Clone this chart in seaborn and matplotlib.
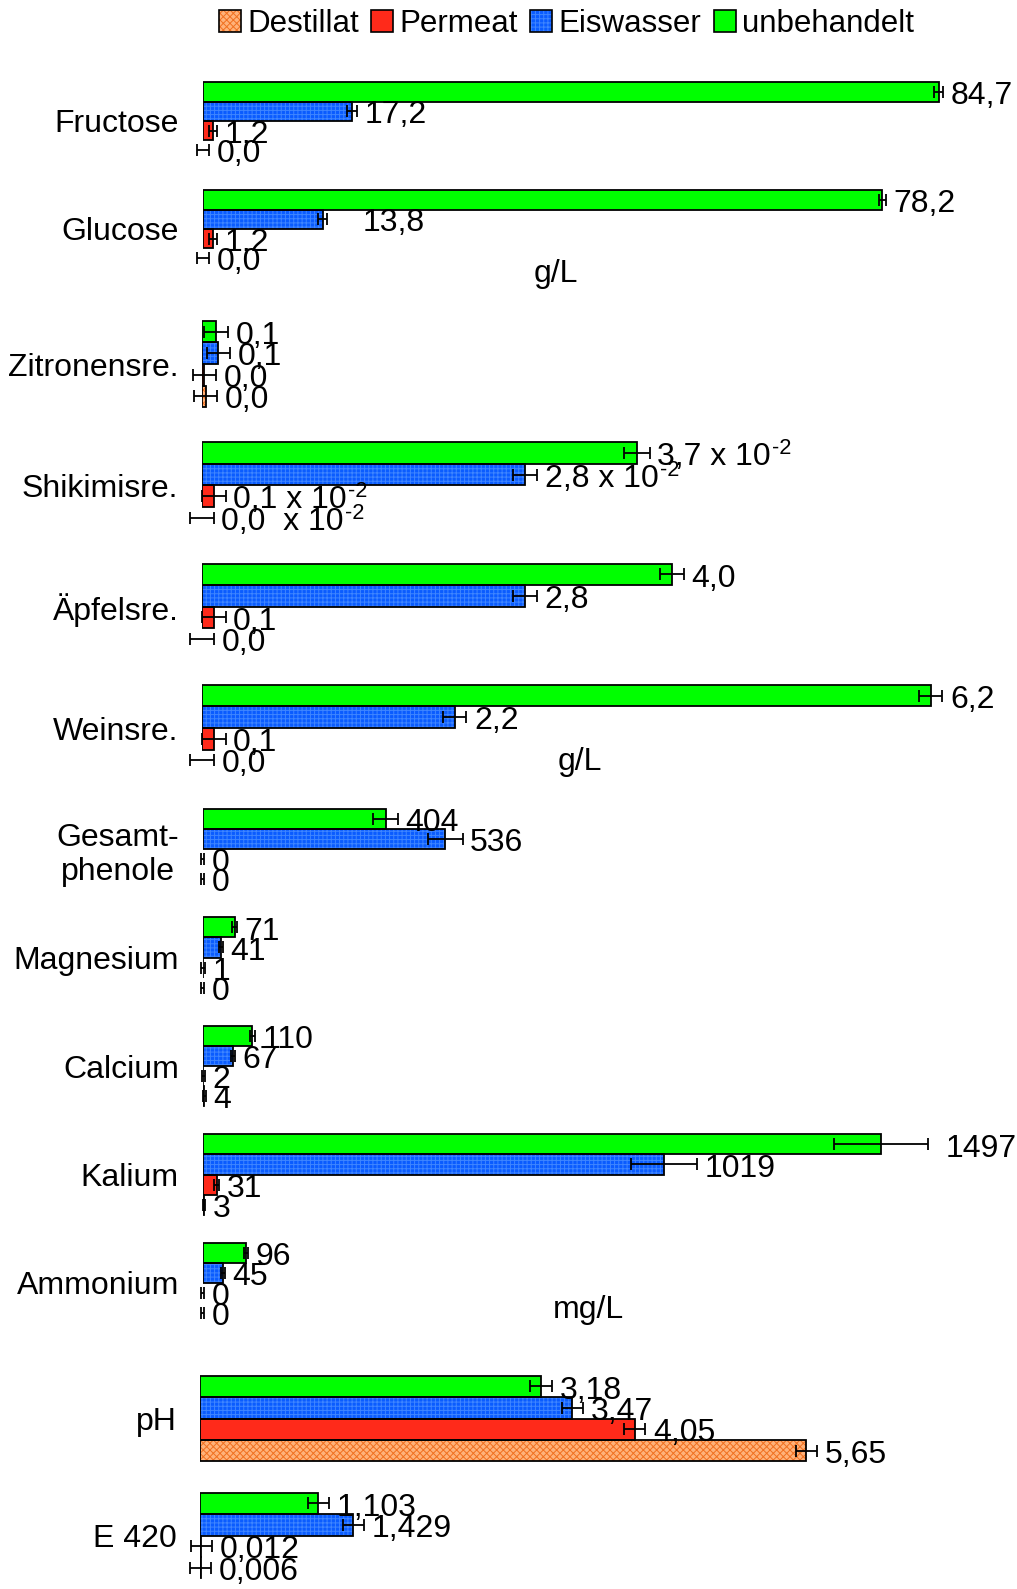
import numpy as np
import pandas as pd
import matplotlib
matplotlib.use("Agg")
import matplotlib.pyplot as plt
from matplotlib.patches import Patch, Rectangle
from matplotlib.legend_handler import HandlerTuple
import seaborn as sns

# --- Daten ---
proben = ["unbehandelt", "Eiswasser", "Permeat", "Destillat"]

# Zucker (g/L)
zucker = ["Fructose", "Glucose"]
zucker_unbeh = [84.7, 78.2]
zucker_eis = [17.2, 13.8]
zucker_perm = [1.2, 1.2]
zucker_dest = [0.0, 0.0]
zucker_err_unbeh = [0.5, 0.4]
zucker_err_eis = [0.6, 0.5]
zucker_err_perm = [0.5, 0.5]
zucker_err_dest = [0.7, 0.7]
zucker_lab_unbeh = ["84,7", "78,2"]
zucker_lab_eis = ["17,2", "13,8"]
zucker_lab_perm = ["1,2", "1,2"]
zucker_lab_dest = ["0,0", "0,0"]

# Saeuren (g/L, Shikimisre. in 10^-2 g/L)
saeuren = ["Zitronensre.", "Shikimisre.", "Äpfelsre.", "Weinsre."]
saeuren_unbeh = [0.12, 3.7, 4.0, 6.2]
saeuren_eis = [0.14, 2.75, 2.75, 2.15]
saeuren_perm = [0.02, 0.1, 0.1, 0.1]
saeuren_dest = [0.03, 0.0, 0.0, 0.0]
saeuren_err_unbeh = [0.1, 0.11, 0.1, 0.1]
saeuren_err_eis = [0.1, 0.1, 0.1, 0.1]
saeuren_err_perm = [0.1, 0.1, 0.1, 0.1]
saeuren_err_dest = [0.1, 0.1, 0.1, 0.1]
saeuren_lab_unbeh = ["0,1", "3,7 x 10^-2", "4,0", "6,2"]
saeuren_lab_eis = ["0,1", "2,8 x 10^-2", "2,8", "2,2"]
saeuren_lab_perm = ["0,0", "0,1 x 10^-2", "0,1", "0,1"]
saeuren_lab_dest = ["0,0", "0,0  x 10^-2", "0,0", "0,0"]

# Phenole und Mineralstoffe (mg/L)
ionen = ["Gesamt-\nphenole", "Magnesium", "Calcium", "Kalium", "Ammonium"]
ionen_unbeh = [404, 71, 110, 1497, 96]
ionen_eis = [536, 41, 67, 1019, 45]
ionen_perm = [0, 1, 2, 31, 0]
ionen_dest = [0, 0, 4, 3, 0]
ionen_err_unbeh = [27, 5, 6, 104, 5]
ionen_err_eis = [38, 4, 5, 73, 4]
ionen_err_perm = [4, 4, 4, 6, 4]
ionen_err_dest = [3, 3, 3, 3, 3]
ionen_lab_unbeh = ["404", "71", "110", "1497", "96"]
ionen_lab_eis = ["536", "41", "67", "1019", "45"]
ionen_lab_perm = ["0", "1", "2", "31", "0"]
ionen_lab_dest = ["0", "0", "4", "3", "0"]

# pH und E 420
ph = ["pH", "E 420"]
ph_unbeh = [3.18, 1.103]
ph_eis = [3.47, 1.429]
ph_perm = [4.05, 0.012]
ph_dest = [5.65, 0.006]
ph_err_unbeh = [0.1, 0.1]
ph_err_eis = [0.1, 0.1]
ph_err_perm = [0.1, 0.1]
ph_err_dest = [0.1, 0.1]
ph_lab_unbeh = ["3,18", "1,103"]
ph_lab_eis = ["3,47", "1,429"]
ph_lab_perm = ["4,05", "0,012"]
ph_lab_dest = ["5,65", "0,006"]

# Zusaetzlicher Abstand einzelner Beschriftungen (Pixel)
label_shift = {"13,8": 28, "1497": 10}

# --- Stil ---
sns.set_style("white")
plt.rcParams["font.family"] = ["Liberation Sans", "DejaVu Sans"]
plt.rcParams["text.color"] = "black"
plt.rcParams["hatch.linewidth"] = 0.7

farben = {"unbehandelt": "#00FF00", "Eiswasser": "#0A5CFF",
          "Permeat": "#FF2A1A", "Destillat": "#FFB27A"}
hatch_farben = {"unbehandelt": "#00FF00", "Eiswasser": "#3F86FF",
                "Permeat": "#FF2A1A", "Destillat": "#F07020"}
hatches = {"unbehandelt": "", "Eiswasser": "++++", "Permeat": "", "Destillat": "xxxxx"}

FS = 23
W, H = 1017, 1589
fig = plt.figure(figsize=(W / 100, H / 100), dpi=100)


def beschriften(ax, text, x, y, dx):
    # "a x 10^-2" -> Basistext plus hochgestellter Exponent
    basis, _, hoch = text.partition("^")
    t = ax.annotate(basis, xy=(x, y), xytext=(dx, -3), textcoords="offset points",
                    ha="left", va="center", fontsize=FS)
    if hoch:
        ax.annotate(hoch, xy=(1, 0.78), xycoords=t, xytext=(1, 0),
                    textcoords="offset points", ha="left", va="center",
                    fontsize=FS * 0.68)


def panel(cats, werte, fehler, labels, geo):
    left, first_c, last_c, scale, width = geo
    n = len(cats)
    pitch = (last_c - first_c) / (n - 1)
    top = first_c - pitch / 2
    ax_w = 800
    ax = fig.add_axes([left / W, 1 - (top + pitch * n) / H, ax_w / W, pitch * n / H])

    rows = []
    for probe, w in zip(proben, werte):
        for c, v in zip(cats, w):
            rows.append({"parameter": c, "probe": probe, "wert": v})
    df = pd.DataFrame(rows)
    sns.barplot(data=df, x="wert", y="parameter", hue="probe", hue_order=proben,
                order=cats, palette=farben, orient="h", errorbar=None, width=width,
                saturation=1, linewidth=0, legend=False, ax=ax)

    for i, probe in enumerate(proben):
        bars = ax.containers[i]
        ys = []
        for p in bars.patches:
            p.set_hatch(hatches[probe])
            p.set_edgecolor(hatch_farben[probe])
            p.set_linewidth(0)
            ys.append(p.get_y() + p.get_height() / 2)
            if p.get_width() > 0:
                ax.add_patch(Rectangle(p.get_xy(), p.get_width(), p.get_height(),
                                       fill=False, ec="black", lw=1.3, zorder=3))
        eb = ax.errorbar(werte[i], ys, xerr=fehler[i], fmt="none", ecolor="black",
                         elinewidth=1.3, capsize=4, capthick=1.3, zorder=4)
        for art in eb.get_children():
            art.set_clip_on(False)
        for v, e, y, t in zip(werte[i], fehler[i], ys, labels[i]):
            beschriften(ax, t, v + e, y, 5.5 + label_shift.get(t, 0) * 0.72)

    ax.set_xlim(0, ax_w / scale)
    ax.set_ylim(n - 0.5, -0.5)
    ax.set_xticks([])
    ax.set_xlabel("")
    ax.set_ylabel("")
    sns.despine(ax=ax, left=True, bottom=True)
    ax.tick_params(axis="y", length=0, pad=17, labelsize=FS, labelcolor="black")
    for lbl in ax.get_yticklabels():
        lbl.set_multialignment("center")
    ax.patch.set_alpha(0)
    return ax


panel(zucker,
      [zucker_unbeh, zucker_eis, zucker_perm, zucker_dest],
      [zucker_err_unbeh, zucker_err_eis, zucker_err_perm, zucker_err_dest],
      [zucker_lab_unbeh, zucker_lab_eis, zucker_lab_perm, zucker_lab_dest],
      (202.6, 121, 229, 8.69, 0.72))
panel(saeuren,
      [saeuren_unbeh, saeuren_eis, saeuren_perm, saeuren_dest],
      [saeuren_err_unbeh, saeuren_err_eis, saeuren_err_perm, saeuren_err_dest],
      [saeuren_lab_unbeh, saeuren_lab_eis, saeuren_lab_perm, saeuren_lab_dest],
      (202.0, 364, 728, 117.5, 0.71))
panel(ionen,
      [ionen_unbeh, ionen_eis, ionen_perm, ionen_dest],
      [ionen_err_unbeh, ionen_err_eis, ionen_err_perm, ionen_err_dest],
      [ionen_lab_unbeh, ionen_lab_eis, ionen_lab_perm, ionen_lab_dest],
      (202.5, 849, 1283, 0.453, 0.74))
panel(ph,
      [ph_unbeh, ph_eis, ph_perm, ph_dest],
      [ph_err_unbeh, ph_err_eis, ph_err_perm, ph_err_dest],
      [ph_lab_unbeh, ph_lab_eis, ph_lab_perm, ph_lab_dest],
      (200.0, 1418.5, 1535.5, 107.3, 0.73))

# Einheiten
fig.text(534 / W, 1 - 274 / H, "g/L", ha="left", va="center", fontsize=FS)
fig.text(558 / W, 1 - 762 / H, "g/L", ha="left", va="center", fontsize=FS)
fig.text(553 / W, 1 - 1310 / H, "mg/L", ha="left", va="center", fontsize=FS)

# Legende
handles = []
for probe in proben[::-1]:
    fill = Patch(facecolor=farben[probe], edgecolor=hatch_farben[probe], lw=0,
                 hatch=hatches[probe])
    rand = Patch(facecolor="none", edgecolor="black", lw=1.2)
    handles.append((fill, rand))
fig.legend(handles, proben[::-1], loc="center", bbox_to_anchor=(0.557, 1 - 24 / H),
           ncol=4, frameon=False, fontsize=22.5, handlelength=0.7, handleheight=0.7,
           handletextpad=0.2, columnspacing=0.4, borderpad=0,
           handler_map={tuple: HandlerTuple(ndivide=1)})

fig.savefig("out.png", dpi=100)
